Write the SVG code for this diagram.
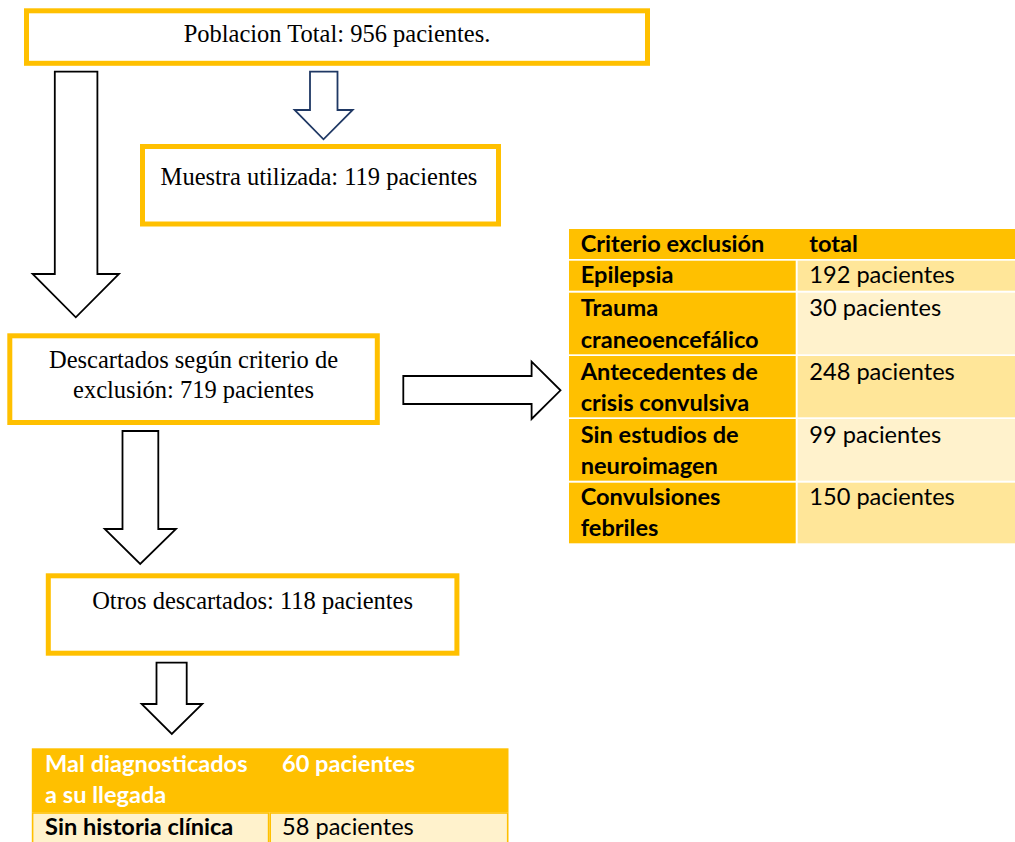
<svg xmlns="http://www.w3.org/2000/svg" width="1015" height="842" viewBox="0 0 1015 842">
<style>
.box{fill:#fff;stroke:#FFC000;stroke-width:5}
.ser{font-family:"Liberation Serif","Times New Roman",serif;font-size:24.5px;fill:#000;text-anchor:middle}
.cal{font-family:Lato,"Open Sans",sans-serif;font-size:23.6px;fill:#000}
.b{font-weight:bold}
.w{fill:#fff}
.arrow{fill:#fff;stroke:#000;stroke-width:1.8;stroke-linejoin:miter}
.arrowb{fill:#fff;stroke:#1F3864;stroke-width:1.8}
.y{fill:#FFC000}
.l1{fill:#FFE699}
.l2{fill:#FFF2CC}
</style>
<rect width="1015" height="842" fill="#fff"/>
<g id="connectors">
<path class="arrowb" d="M310,71.7 H337.5 V110 H352.7 L323.5,139.3 L294.6,110 H310 Z"/>
<path class="arrow" d="M54.8,71.7 H97.4 V274 H119 L75.8,317.3 L32.6,274 H54.8 Z"/>
<path class="arrow" d="M403.3,376 H531.6 V361.7 L560.5,390.3 L531.6,419 V404 H403.3 Z"/>
<path class="arrow" d="M122.5,431 H158.3 V529 H176 L140.2,564 L104.7,529 H122.5 Z"/>
<path class="arrow" d="M156.5,662.7 H186.7 V704 H202.3 L171.8,734 L141.6,704 H156.5 Z"/>
</g>
<g id="poblacion">
<rect class="box" x="26.5" y="10.8" width="621" height="52.5"/>
<text class="ser" x="337" y="41.7">Poblacion Total: 956 pacientes.</text>
</g>
<g id="muestra">
<rect class="box" x="142.5" y="146.5" width="356" height="77.5"/>
<text class="ser" x="319" y="185">Muestra utilizada: 119 pacientes</text>
</g>
<g id="descartados">
<rect class="box" x="9.8" y="335.8" width="367.5" height="86.7"/>
<text class="ser" x="193.5" y="368.3">Descartados según criterio de</text>
<text class="ser" x="193.5" y="398.3">exclusión: 719 pacientes</text>
</g>
<g id="otros">
<rect class="box" x="48.3" y="575.8" width="408.6" height="77.4"/>
<text class="ser" x="252.6" y="609.3">Otros descartados: 118 pacientes</text>
</g>
<g id="tabla-criterios">
<rect class="y" x="569" y="229" width="446" height="30"/>
<rect class="y" x="569" y="260.7" width="226.7" height="30"/>
<rect class="l1" x="797.7" y="260.7" width="217.3" height="30"/>
<rect class="y" x="569" y="292.7" width="226.7" height="61.6"/>
<rect class="l2" x="797.7" y="292.7" width="217.3" height="61.6"/>
<rect class="y" x="569" y="356" width="226.7" height="61.3"/>
<rect class="l1" x="797.7" y="356" width="217.3" height="61.3"/>
<rect class="y" x="569" y="419" width="226.7" height="61.7"/>
<rect class="l2" x="797.7" y="419" width="217.3" height="61.7"/>
<rect class="y" x="569" y="482.7" width="226.7" height="60.6"/>
<rect class="l1" x="797.7" y="482.7" width="217.3" height="60.6"/>
<text class="cal b" x="580.7" y="251.7">Criterio exclusión</text>
<text class="cal b" x="809.3" y="251.7">total</text>
<text class="cal b" x="580.7" y="283.3">Epilepsia</text>
<text class="cal" x="809.3" y="283.3">192 pacientes</text>
<text class="cal b" x="580.7" y="316">Trauma</text>
<text class="cal b" x="580.7" y="347.7">craneoencefálico</text>
<text class="cal" x="809.3" y="316">30 pacientes</text>
<text class="cal b" x="580.7" y="380">Antecedentes de</text>
<text class="cal b" x="580.7" y="410.7">crisis convulsiva</text>
<text class="cal" x="809.3" y="380">248 pacientes</text>
<text class="cal b" x="580.7" y="442.7">Sin estudios de</text>
<text class="cal b" x="580.7" y="473.5">neuroimagen</text>
<text class="cal" x="809.3" y="442.7">99 pacientes</text>
<text class="cal b" x="580.7" y="505.3">Convulsiones</text>
<text class="cal b" x="580.7" y="536">febriles</text>
<text class="cal" x="809.3" y="505.3">150 pacientes</text>
</g>
<g id="tabla-otros">
<rect class="y" x="31.8" y="748.3" width="476.7" height="64"/>
<rect class="l2" x="32.6" y="813" width="236" height="32" stroke="#FFC000" stroke-width="1.6"/>
<rect class="l2" x="270.2" y="813" width="237.5" height="32" stroke="#FFC000" stroke-width="1.6"/>
<text class="cal b w" x="45.1" y="772.3">Mal diagnosticados</text>
<text class="cal b w" x="45.1" y="802.7">a su llegada</text>
<text class="cal b w" x="282" y="772.3">60 pacientes</text>
<text class="cal b" x="45.1" y="835">Sin historia clínica</text>
<text class="cal" x="282" y="835">58 pacientes</text>
</g>
</svg>
